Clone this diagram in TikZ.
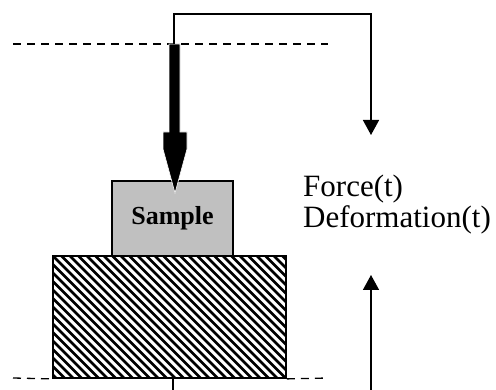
\documentclass[tikz,border=0pt]{standalone}
\usepackage{fontspec}
\setmainfont{Liberation Serif}
\usetikzlibrary{arrows.meta}
\definecolor{samplegray}{RGB}{192,192,192}
\begin{document}
\begin{tikzpicture}[x=1pt,y=-1pt,
  conn/.style={line width=1.5pt},
  tipped/.style={-{Triangle[width=16pt,length=15pt]}},
  dashline/.style={line width=1.3pt, dash pattern=on 8pt off 6pt},
  samplebox/.style={draw, line width=1.5pt, fill=samplegray, minimum width=121pt, minimum height=75pt, inner sep=0pt,
    font=\fontsize{26}{26}\selectfont\bfseries},
  platebox/.style={draw, line width=1.8pt, minimum width=233pt, minimum height=122pt, inner sep=0pt,
    path picture={
      \foreach \i in {-136,-127.5,...,240}
        \draw[line width=2.5pt] ([xshift=\i pt]path picture bounding box.north west) -- ++(140,140);
    }},
  label/.style={anchor=base west, inner sep=0pt, font=\fontsize{31}{31}\selectfont}]
\useasboundingbox (0,0) rectangle (496,390);

% plate and sample
\node[platebox] (plate) at (169.5,317) {};
\node[samplebox] (sample) at (172.5,218.5) {Sample};

% dashed reference lines
\coordinate (dl1) at (13,44);
\coordinate (dr1) at (328,44);
\draw[dashline] (dl1) -- (dr1);
\coordinate (dl2) at (13,378);
\coordinate (dr2) at (328,378);
\draw[dashline] (dl2) -- (plate.south west);
\draw[dashline] (plate.south east) -- (dr2);

% indenter arrow
\filldraw[draw=white, line width=0.6pt] (169,44) -- (180,44) -- (180,132) -- (187,132) -- (187,149) -- (175,193)
      -- (163,149) -- (163,132) -- (169,132) -- cycle;

% labels
\node[label] (force) at (303,197) {Force(t)};
\node[label] (deform) at (303,228) {Deformation(t)};

% signal connectors
\coordinate (ptop) at (174,44);
\coordinate (ftip) at (371,135);
\draw[conn,tipped] (ptop) -- ++(0,-30) -| (ftip);

\coordinate (pbot) at (173,378);
\coordinate (pend) at (173,392);
\draw[conn] (pbot) -- (pend);

\coordinate (dbot) at (371,392);
\coordinate (dtip) at (371,275);
\draw[conn,tipped] (dbot) -- (dtip);
\end{tikzpicture}
\end{document}
